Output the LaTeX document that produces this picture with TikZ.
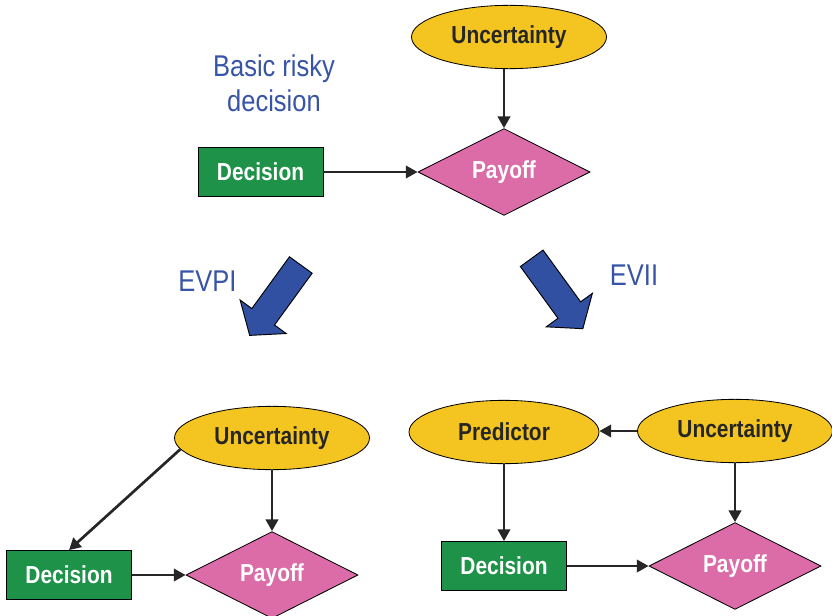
\documentclass[tikz,border=0pt]{standalone}
\usepackage{fontspec}
\setmainfont{Liberation Sans}[FakeStretch=0.85]
\usetikzlibrary{shapes.geometric,arrows.meta}

\definecolor{chancefill}{RGB}{244,197,32}
\definecolor{choicefill}{RGB}{30,146,72}
\definecolor{valuefill}{RGB}{219,108,168}
\definecolor{notecolor}{RGB}{55,84,166}
\definecolor{shiftfill}{RGB}{50,80,162}

\begin{document}
\begin{tikzpicture}[x=0.03cm,y=-0.03cm,
  chance/.style={ellipse,draw,line width=0.7pt,fill=chancefill,inner sep=0pt,
    minimum width=5.85cm,minimum height=1.9cm,
    font=\fontsize{21}{24}\selectfont\bfseries,text=black!85},
  choice/.style={rectangle,draw,line width=0.7pt,fill=choicefill,inner sep=0pt,
    minimum width=3.75cm,minimum height=1.47cm,
    font=\fontsize{21}{24}\selectfont\bfseries,text=white},
  payoff/.style={diamond,draw,line width=0.7pt,fill=valuefill,inner sep=0pt,
    minimum width=5.16cm,minimum height=2.46cm,
    font=\fontsize{21}{24}\selectfont\bfseries,text=white},
  note/.style={align=center,inner sep=0pt,text=notecolor,
    font=\fontsize{25.6}{30}\selectfont},
  link/.style={-{Triangle[length=10pt,width=10.5pt]},line width=2.3pt,draw=black!85},
  bigarrow/.style={fill=shiftfill,draw=black,line width=0.8pt,line join=miter}]

  \useasboundingbox (0,0) rectangle (832,616);

  % basic risky decision
  \node[chance] (unc1) at (509,37) {Uncertainty};
  \node[payoff] (pay1) at (504,172) {Payoff};
  \node[choice] (dec1) at (260.5,172) {Decision};
  \node[note] (basic) at (274,83) {Basic risky\\decision};
  \draw[link] (unc1.south -| pay1) -- (pay1.north);
  \draw[link] (dec1) -- (pay1);

  % the two ways down
  \node[note] (evpi) at (207.5,281) {EVPI};
  \node[note] (evii) at (634,275.5) {EVII};
  \draw[bigarrow,shift={(300.8,265)},rotate=234]
    (0,-14) -- (64,-14) -- (64,-28.5) -- (87,0) -- (64,28.5) -- (64,14) -- (0,14) -- cycle;
  \draw[bigarrow,shift={(531.7,258.3)},rotate=306]
    (0,-14) -- (64,-14) -- (64,-28.5) -- (87,0) -- (64,28.5) -- (64,14) -- (0,14) -- cycle;

  % perfect information
  \node[chance] (unc2) at (272,438) {Uncertainty};
  \node[choice] (dec2) at (69,575) {Decision};
  \node[payoff] (pay2) at (272,575) {Payoff};
  \draw[link] (unc2) -- (pay2);
  \draw[link] (unc2.187) -- (dec2.north);
  \draw[link] (dec2) -- (pay2);

  % imperfect information
  \node[chance,minimum width=5.7cm] (pred) at (504,432) {Predictor};
  \node[chance] (unc3) at (735,431) {Uncertainty};
  \node[choice] (dec3) at (504,566) {Decision};
  \node[payoff] (pay3) at (735,566) {Payoff};
  \draw[link] (unc3.west) -- (unc3.west -| pred.east);
  \draw[link] (pred) -- (dec3);
  \draw[link] (unc3) -- (pay3);
  \draw[link] (dec3) -- (pay3);
\end{tikzpicture}
\end{document}
